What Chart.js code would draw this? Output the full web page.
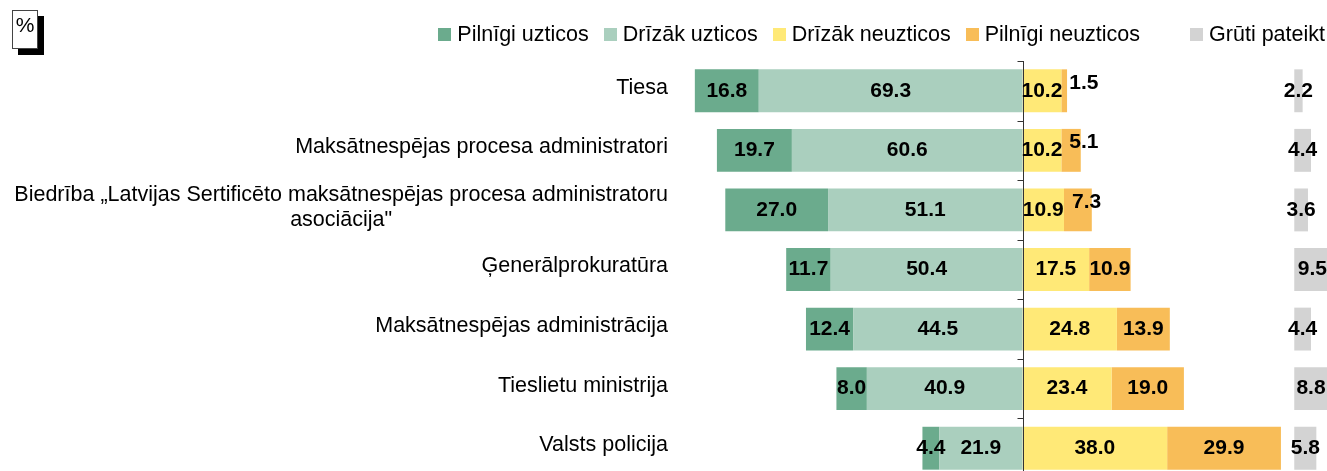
<!DOCTYPE html>
<html>
<head>
<meta charset="utf-8">
<script src="https://cdn.jsdelivr.net/npm/chart.js@4.4.1/dist/chart.umd.min.js"></script>
<style>
  html, body { margin: 0; padding: 0; width: 1327px; height: 471px; overflow: hidden; background: #fff; }
  #wrap { position: relative; width: 1327px; height: 479px; }
  #c { position: absolute; left: 0; top: 0; }
  #pct { position: absolute; left: 12px; top: 10px; width: 24px; height: 37px; border: 1px solid #444; background: #fff;
         box-shadow: 6px 6px 0 #000; font: 21px "Liberation Sans", Arial, sans-serif; text-align: center; line-height: 28px; color: #000; }
  #legend { position: absolute; right: 2px; top: 22px; height: 24px; display: flex; align-items: center;
            font: 21.5px "Liberation Sans", Arial, sans-serif; color: #000; white-space: nowrap; }
  .li { display: flex; align-items: center; margin-left: 15px; }
  .li.far { margin-left: 50px; }
  .sw { width: 13px; height: 13px; margin-right: 6px; }
</style>
</head>
<body>
<div id="wrap">
  <canvas id="c" width="1327" height="479"></canvas>
  <div id="pct">%</div>
  <div id="legend"></div>
</div>
<script>
const categories = [
  'Tiesa',
  'Maksātnespējas procesa administratori',
  ['Biedrība „Latvijas Sertificēto maksātnespējas procesa administratoru', 'asociācija"'],
  'Ģenerālprokuratūra',
  'Maksātnespējas administrācija',
  'Tieslietu ministrija',
  'Valsts policija'
];
const pilnigiUzticos   = [16.8, 19.7, 27.0, 11.7, 12.4, 8.0, 4.4];
const drizakUzticos    = [69.3, 60.6, 51.1, 50.4, 44.5, 40.9, 21.9];
const drizakNeuzticos  = [10.2, 10.2, 10.9, 17.5, 24.8, 23.4, 38.0];
const pilnigiNeuzticos = [1.5, 5.1, 7.3, 10.9, 13.9, 19.0, 29.9];
const grutiPateikt     = [2.2, 4.4, 3.6, 9.5, 4.4, 8.8, 5.8];
const GRUTI_START = 71.4; // where the "Grūti pateikt" column begins on the value axis

const COLORS = {
  pu: '#6BAB8D', du: '#AACFBE', dn: '#FFE977', pn: '#F8BD58', gp: '#D3D3D3'
};
const FONT = '"Liberation Sans", Arial, sans-serif';

const spacer = drizakNeuzticos.map((v, i) => GRUTI_START - v - pilnigiNeuzticos[i]);

const datasets = [
  { label: 'Drīzāk uzticos', key: 'du', data: drizakUzticos.map(v => -v), backgroundColor: COLORS.du },
  { label: 'Pilnīgi uzticos', key: 'pu', data: pilnigiUzticos.map(v => -v), backgroundColor: COLORS.pu },
  { label: 'Drīzāk neuzticos', key: 'dn', data: drizakNeuzticos, backgroundColor: COLORS.dn },
  { label: 'Pilnīgi neuzticos', key: 'pn', data: pilnigiNeuzticos, backgroundColor: COLORS.pn },
  { label: '', key: 'sp', data: spacer, backgroundColor: 'rgba(0,0,0,0)' },
  { label: 'Grūti pateikt', key: 'gp', data: grutiPateikt, backgroundColor: COLORS.gp }
];
datasets.forEach(d => { d.borderWidth = 0; d.barPercentage = 0.72; d.categoryPercentage = 1.0; });

// HTML legend
const legendOrder = ['pu', 'du', 'dn', 'pn', 'gp'];
const lg = document.getElementById('legend');
legendOrder.forEach((k, idx) => {
  const ds = datasets.find(d => d.key === k);
  const it = document.createElement('div');
  it.className = 'li' + (k === 'gp' ? ' far' : '');
  if (idx === 0) it.style.marginLeft = '0';
  const sw = document.createElement('div');
  sw.className = 'sw'; sw.style.background = ds.backgroundColor;
  const tx = document.createElement('span'); tx.textContent = ds.label;
  it.appendChild(sw); it.appendChild(tx); lg.appendChild(it);
});

const axisPlugin = {
  id: 'axisAndLabels',
  afterDatasetsDraw(chart) {
    const ctx = chart.ctx, xs = chart.scales.x, ys = chart.scales.y, ca = chart.chartArea;
    ctx.save();
    // center axis line with boundary tick marks
    const x0 = Math.round(xs.getPixelForValue(0)) + 0.5;
    ctx.strokeStyle = '#333'; ctx.lineWidth = 1;
    ctx.beginPath(); ctx.moveTo(x0, ca.top); ctx.lineTo(x0, ca.bottom); ctx.stroke();
    const n = categories.length;
    const step = (ys.getPixelForValue(1) - ys.getPixelForValue(0));
    for (let i = 0; i <= n; i++) {
      const y = Math.round(ys.getPixelForValue(i) - step / 2) + 0.5;
      ctx.beginPath(); ctx.moveTo(x0 - 6, y); ctx.lineTo(x0, y); ctx.stroke();
    }
    // category labels
    ctx.fillStyle = '#000'; ctx.font = '21.5px ' + FONT; ctx.textBaseline = 'middle';
    const right = ca.left - 12;
    categories.forEach((lab, i) => {
      const y = ys.getPixelForValue(i) - 3;
      if (Array.isArray(lab)) {
        const maxW = Math.max(...lab.map(l => ctx.measureText(l).width));
        ctx.textAlign = 'center';
        const lh = 25;
        lab.forEach((l, j) => ctx.fillText(l, right - maxW / 2, y + 1 + (j - (lab.length - 1) / 2) * lh));
      } else {
        ctx.textAlign = 'right';
        ctx.fillText(lab, right, y);
      }
    });
    // value labels
    ctx.font = 'bold 21px ' + FONT;
    chart.data.datasets.forEach((ds, di) => {
      if (ds.key === 'sp') return;
      const meta = chart.getDatasetMeta(di);
      meta.data.forEach((el, i) => {
        const v = Math.abs(ds.data[i]);
        const txt = v.toFixed(1);
        const l = Math.min(el.x, el.base), r = Math.max(el.x, el.base);
        const w = r - l;
        const tw = ctx.measureText(txt).width;
        if (ds.key === 'pn' && w < tw) {
          ctx.textAlign = 'left';
          ctx.fillText(txt, l + 8, el.y - 8);
        } else {
          ctx.textAlign = 'center';
          ctx.fillText(txt, (l + r) / 2, el.y);
        }
      });
    });
    ctx.restore();
  }
};

new Chart(document.getElementById('c'), {
  type: 'bar',
  data: { labels: categories.map(c => Array.isArray(c) ? c.join(' ') : c), datasets },
  options: {
    indexAxis: 'y',
    responsive: false,
    animation: false,
    devicePixelRatio: 1,
    layout: { padding: { left: 680, right: 0, top: 61, bottom: 1 } },
    scales: {
      x: { stacked: true, min: -90, max: 80, display: false },
      y: { stacked: true, display: false }
    },
    plugins: { legend: { display: false }, tooltip: { enabled: false } }
  },
  plugins: [axisPlugin]
});
</script>
</body>
</html>
